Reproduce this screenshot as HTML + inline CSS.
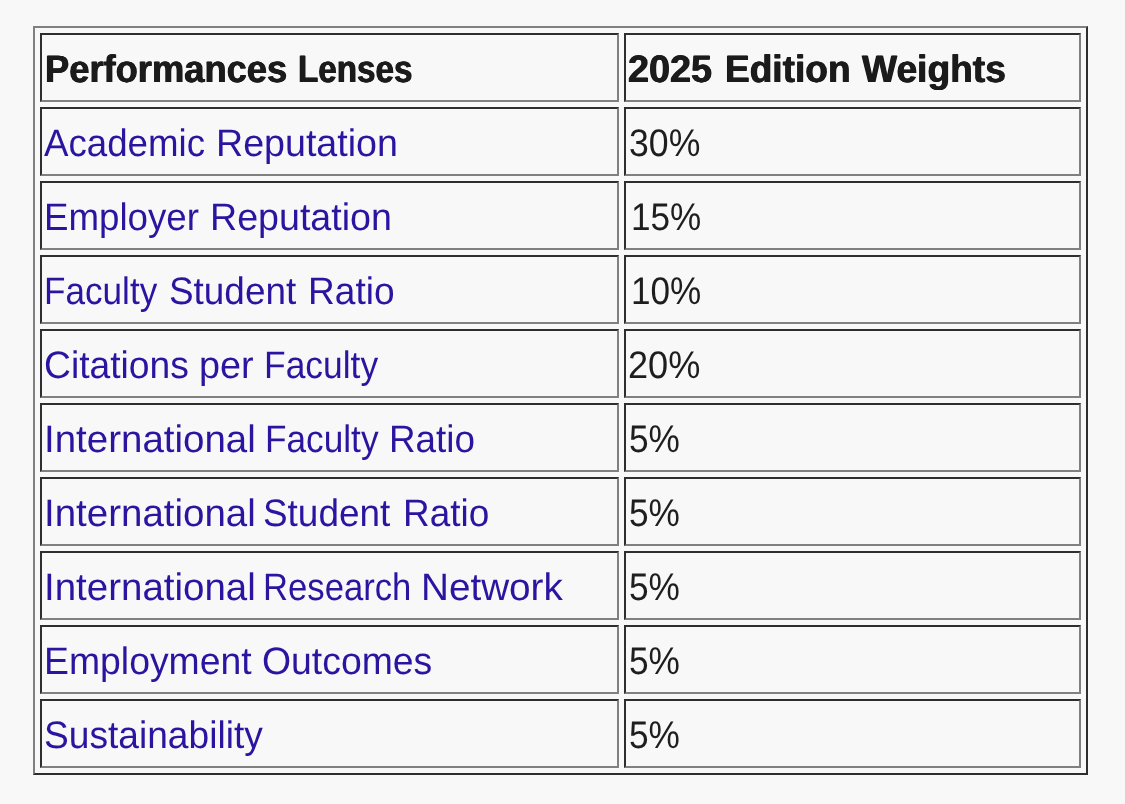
<!DOCTYPE html>
<html><head><meta charset="utf-8"><title>QS Performance Lenses</title>
<style>
html,body{margin:0;padding:0;background:#f8f8f8;}
body{width:1125px;height:804px;position:relative;overflow:hidden;font-family:"Liberation Sans",sans-serif;font-size:38px;color:#1e1e1e;text-rendering:geometricPrecision;}
#t{position:absolute;left:33px;top:26px;width:1055px;height:749px;box-sizing:border-box;table-layout:fixed;border-collapse:separate;border-spacing:5px;border-style:solid;border-width:2px;border-color:#808080 #2e2e2e #2e2e2e #808080;}
#t th,#t td{box-sizing:border-box;height:69px;padding:0;border-style:solid;border-width:2px;border-color:#2e2e2e #808080 #808080 #2e2e2e;text-align:left;vertical-align:top;font-weight:normal;}
.a{width:579px;}
.b{width:457px;}
.c{position:relative;height:65px;white-space:nowrap;}
.c span,.c a{position:absolute;line-height:normal;transform-origin:0 0;display:block;}
.c a{color:#2b15a0;text-decoration:none;}
.r span,.r a{font-size:38.25px;top:12.87px;}
.d span,.d a{font-size:38.5px;top:12.50px;}
.h span,.h a{font-size:38.25px;top:12.85px;font-weight:bold;color:#1b1b1b;text-shadow:0.5px 0 0 #1b1b1b,-0.5px 0 0 #1b1b1b;}
</style></head><body>
<table id="t"><colgroup><col class="a"><col class="b"></colgroup><tbody>
<tr><th class="a"><div class="c h"><span style="left:3.05px;transform:scaleX(0.9494)">Performances</span> <span style="left:256.26px;transform:scaleX(0.8682)">Lenses</span></div></th><th class="b"><div class="c h"><span style="left:2.40px;transform:scaleX(0.9888)">2025</span> <span style="left:98.54px;transform:scaleX(0.9686)">Edition</span> <span style="left:235.95px;transform:scaleX(0.9719)">Weights</span></div></th></tr>
<tr><td class="a"><div class="c r"><a style="left:2.43px;transform:scaleX(0.9585)">Academic</a> <a style="left:173.85px;transform:scaleX(0.9833)">Reputation</a></div></td><td class="b"><div class="c d"><span style="left:3.00px;transform:scaleX(0.9257)">30%</span></div></td></tr>
<tr><td class="a"><div class="c r"><a style="left:1.52px;transform:scaleX(0.9586)">Employer</a> <a style="left:167.86px;transform:scaleX(0.9831)">Reputation</a></div></td><td class="b"><div class="c d"><span style="left:4.57px;transform:scaleX(0.9124)">15%</span></div></td></tr>
<tr><td class="a"><div class="c r"><a style="left:1.92px;transform:scaleX(0.9183)">Faculty</a> <a style="left:127.07px;transform:scaleX(0.9645)">Student</a> <a style="left:265.61px;transform:scaleX(0.9690)">Ratio</a></div></td><td class="b"><div class="c d"><span style="left:4.57px;transform:scaleX(0.9124)">10%</span></div></td></tr>
<tr><td class="a"><div class="c r"><a style="left:2.25px;transform:scaleX(0.9734)">Citations</a> <a style="left:157.11px;transform:scaleX(0.9873)">per</a> <a style="left:222.45px;transform:scaleX(0.9261)">Faculty</a></div></td><td class="b"><div class="c d"><span style="left:2.46px;transform:scaleX(0.9393)">20%</span></div></td></tr>
<tr><td class="a"><div class="c r"><a style="left:1.87px;transform:scaleX(1.0059)">International</a> <a style="left:222.50px;transform:scaleX(0.9207)">Faculty</a> <a style="left:346.70px;transform:scaleX(0.9617)">Ratio</a></div></td><td class="b"><div class="c d"><span style="left:2.93px;transform:scaleX(0.9161)">5%</span></div></td></tr>
<tr><td class="a"><div class="c r"><a style="left:1.87px;transform:scaleX(1.0059)">International</a> <a style="left:221.47px;transform:scaleX(0.9650)">Student</a> <a style="left:361.06px;transform:scaleX(0.9649)">Ratio</a></div></td><td class="b"><div class="c d"><span style="left:2.93px;transform:scaleX(0.9161)">5%</span></div></td></tr>
<tr><td class="a"><div class="c r"><a style="left:1.87px;transform:scaleX(1.0059)">International</a> <a style="left:221.41px;transform:scaleX(0.9061)">Research</a> <a style="left:378.62px;transform:scaleX(1.0107)">Network</a></div></td><td class="b"><div class="c d"><span style="left:2.93px;transform:scaleX(0.9161)">5%</span></div></td></tr>
<tr><td class="a"><div class="c r"><a style="left:1.92px;transform:scaleX(0.9769)">Employment</a> <a style="left:220.07px;transform:scaleX(0.9768)">Outcomes</a></div></td><td class="b"><div class="c d"><span style="left:2.93px;transform:scaleX(0.9161)">5%</span></div></td></tr>
<tr><td class="a"><div class="c r"><a style="left:2.06px;transform:scaleX(0.9709)">Sustainability</a></div></td><td class="b"><div class="c d"><span style="left:2.93px;transform:scaleX(0.9161)">5%</span></div></td></tr>
</tbody></table>
</body></html>
